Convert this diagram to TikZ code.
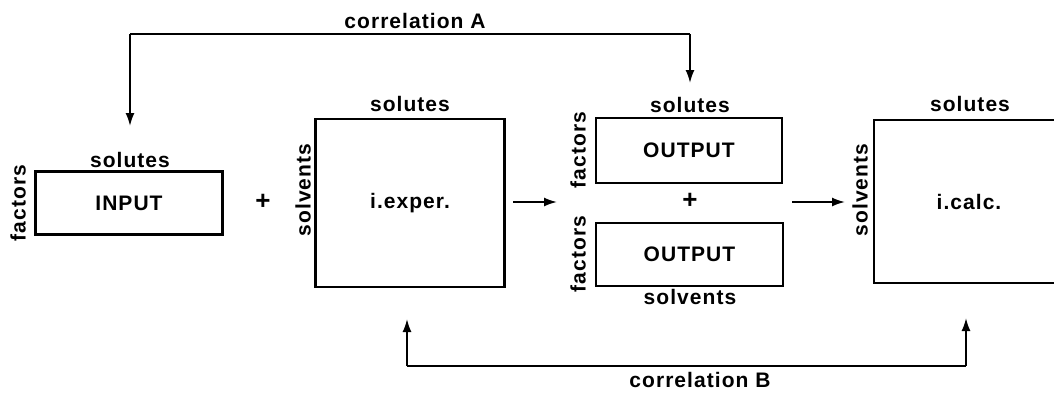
\documentclass[tikz,border=0pt]{standalone}
\usepackage{fontspec}
\setmainfont{Liberation Sans}[LetterSpace=5]
\usetikzlibrary{arrows.meta}
\begin{document}
\begin{tikzpicture}[x=1pt,y=-1pt,
  box/.style={draw, line width=2.6pt, inner sep=0pt, font=\fontsize{21}{22}\selectfont\bfseries},
  lbl/.style={font=\fontsize{21}{22}\selectfont\bfseries, inner sep=0pt},
  plus/.style={font=\fontsize{26}{28}\selectfont\bfseries, inner sep=0pt},
  conn/.style={line width=1.8pt, -{Latex[length=13pt,width=9pt]}},
  plain/.style={line width=1.8pt}]
\useasboundingbox (0,0) rectangle (1054,392);
% boxes
\node[box, minimum width=187pt, minimum height=63pt] (in) at (129,203) {INPUT};
\node[box, minimum width=189pt, minimum height=168pt] (ex) at (410,203) {i.exper.};
\node[box, minimum width=186pt, minimum height=65pt] (o1) at (689,150.5) {OUTPUT};
\node[box, minimum width=187pt, minimum height=63pt] (o2) at (689.5,254.5) {OUTPUT};
\node[box, minimum width=190pt, minimum height=163pt] (ca) at (969,201.5) {i.calc.};
% labels
\node[lbl] (inS) at (130,160) {solutes};
\node[lbl, rotate=90] (inF) at (18,203) {factors};
\node[plus] (p1) at (263,202) {+};
\node[lbl] (exS) at (410,104) {solutes};
\node[lbl, rotate=90] (exV) at (303,190) {solvents};
\node[lbl] (o1S) at (690,105) {solutes};
\node[lbl, rotate=90] (o1F) at (578,150) {factors};
\node[plus] (p2) at (690,201) {+};
\node[lbl, rotate=90] (o2F) at (578,254) {factors};
\node[lbl] (o2V) at (690,297) {solvents};
\node[lbl] (caS) at (970,104) {solutes};
\node[lbl, rotate=90] (caV) at (860,190) {solvents};
\node[lbl] (cA) at (415,21) {correlation A};
\node[lbl] (cB) at (700,380) {correlation B};
% coordinates
\coordinate (a1) at (513,202);
\coordinate (a2) at (557,202);
\coordinate (b1) at (792,202);
\coordinate (b2) at (845,202);
\coordinate (cAl) at (130,34);
\coordinate (cAr) at (690,34);
\coordinate (cAlt) at (130,126);
\coordinate (cArt) at (690,83);
\coordinate (cBl) at (407,366);
\coordinate (cBr) at (966,366);
\coordinate (cBlt) at (407,319);
\coordinate (cBrt) at (966,318);
% connectors
\draw[conn] (a1) -- (a2);
\draw[conn] (b1) -- (b2);
\draw[plain] (cAl) -- (cAr);
\draw[conn] (cAl) -- (cAlt);
\draw[conn] (cAr) -- (cArt);
\draw[plain] (cBl) -- (cBr);
\draw[conn] (cBl) -- (cBlt);
\draw[conn] (cBr) -- (cBrt);
\end{tikzpicture}
\end{document}
